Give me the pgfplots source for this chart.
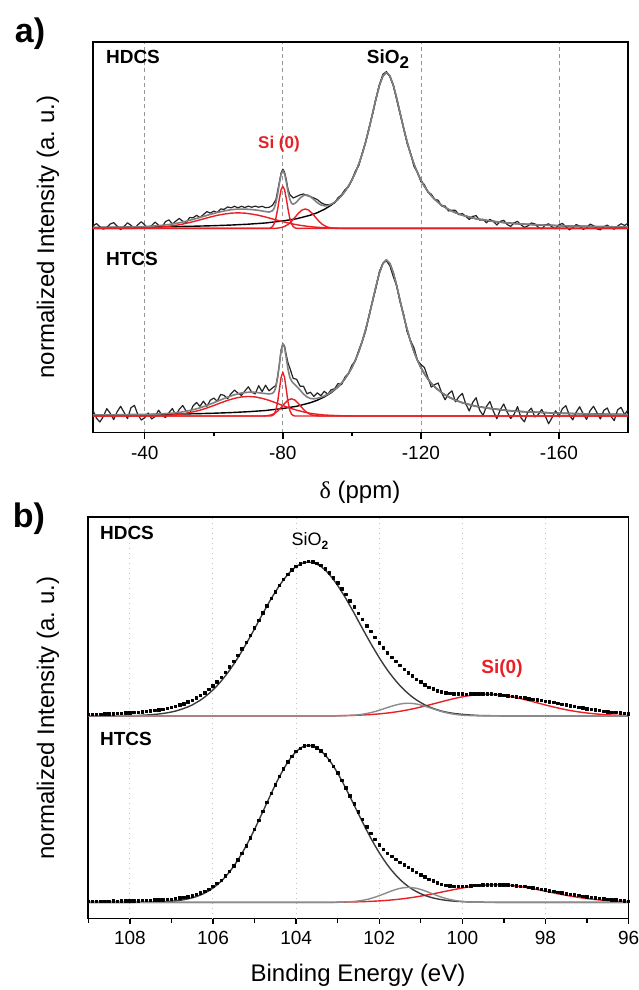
\documentclass[border=0pt]{standalone}
\usepackage{pgfplots}
\pgfplotsset{compat=1.18}
\usepackage{pgfplotstable}
\usepackage{fontspec}
\setmainfont{Liberation Sans}
\newfontfamily\greekserif{Liberation Serif}
\definecolor{fitred}{RGB}{232,32,38}
\definecolor{fitgray}{RGB}{128,128,128}
\definecolor{datablack}{RGB}{35,35,35}
\definecolor{compblack}{RGB}{60,60,60}
\definecolor{compgray}{RGB}{140,140,140}
\definecolor{gridgray}{RGB}{150,150,150}
\definecolor{gridlight}{RGB}{195,195,195}

% ---------- panel a : 29Si NMR ----------
\pgfplotstableread{
x y
-25 0.016
-26 0.031
-27 0.011
-28 -0.005
-29 0.007
-30 0.029
-31 0.037
-32 0.015
-33 -0.008
-34 0.013
-35 0.036
-36 0.020
-37 -0.001
-38 0.024
-39 0.043
-40 0.022
-41 0.001
-42 0.019
-43 0.041
-44 0.020
-45 0.010
-46 0.044
-47 0.055
-48 0.028
-49 0.047
-50 0.064
-51 0.046
-52 0.038
-53 0.070
-54 0.068
-55 0.084
-56 0.070
-57 0.089
-58 0.108
-59 0.098
-60 0.111
-61 0.102
-62 0.125
-63 0.122
-64 0.138
-65 0.132
-66 0.142
-67 0.132
-68 0.142
-69 0.134
-70 0.143
-71 0.136
-72 0.143
-73 0.136
-74 0.142
-75 0.133
-76 0.135
-77 0.148
-78 0.185
-78.5 0.240
-79 0.298
-79.5 0.356
-80 0.380
-80.5 0.360
-81 0.313
-81.5 0.250
-82 0.218
-83 0.195
-84 0.205
-85 0.215
-86 0.221
-87 0.210
-88 0.204
-89 0.195
-90 0.185
-91 0.166
-92 0.155
-93 0.151
-94 0.155
-95 0.163
-96 0.197
-97 0.215
-98 0.248
-99 0.266
-100 0.310
-101 0.367
-102 0.402
-103 0.483
-104 0.555
-105 0.647
-106 0.732
-107 0.833
-108 0.923
-109 0.988
-110 1.005
-111 0.973
-112 0.918
-113 0.823
-114 0.732
-115 0.642
-116 0.545
-117 0.483
-118 0.397
-119 0.362
-120 0.300
-121 0.281
-122 0.233
-123 0.220
-124 0.186
-125 0.181
-126 0.144
-127 0.144
-128 0.112
-129 0.116
-130 0.116
-131 0.088
-132 0.095
-133 0.078
-134 0.057
-135 0.077
-136 0.082
-137 0.053
-138 0.059
-139 0.036
-140 0.058
-141 0.045
-142 0.022
-143 0.045
-144 0.052
-145 0.025
-146 0.013
-147 0.036
-148 0.045
-149 0.023
-150 0.007
-151 0.016
-152 0.035
-153 0.029
-154 0.008
-155 -0.003
-156 0.021
-157 0.030
-158 0.009
-159 -0.002
-160 0.023
-161 0.032
-162 0.011
-163 -0.009
-164 0.005
-165 0.025
-166 0.014
-167 -0.006
-168 0.003
-169 0.028
-170 0.017
-171 -0.003
-172 -0.009
-173 0.011
-174 0.021
-175 0.005
-176 -0.005
-177 0.015
-178 0.030
-179 0.019
-180 0.034
}\aHDdata

\pgfplotstableread{
x y
-25 0.036
-26 -0.014
-27 -0.039
-28 -0.003
-29 0.047
-30 0.017
-31 -0.023
-32 0.027
-33 0.062
-34 0.023
-35 -0.017
-36 0.053
-37 0.068
-38 0.008
-39 -0.026
-40 -0.011
-41 0.019
-42 -0.019
-43 -0.003
-44 0.037
-45 0.004
-46 -0.010
-47 0.021
-48 0.048
-49 0.005
-50 0.043
-51 0.067
-52 0.030
-53 0.015
-54 0.065
-55 0.086
-56 0.062
-57 0.095
-58 0.062
-59 0.101
-60 0.115
-61 0.094
-62 0.138
-63 0.132
-64 0.111
-65 0.143
-66 0.166
-67 0.146
-68 0.132
-69 0.160
-70 0.187
-71 0.152
-72 0.142
-73 0.194
-74 0.156
-75 0.197
-76 0.161
-77 0.180
-78 0.196
-78.5 0.255
-79 0.332
-79.5 0.423
-80 0.462
-80.5 0.449
-81 0.391
-81.5 0.340
-82 0.309
-83 0.241
-84 0.235
-85 0.191
-86 0.190
-87 0.142
-88 0.152
-89 0.125
-90 0.148
-91 0.130
-92 0.158
-93 0.139
-94 0.168
-95 0.174
-96 0.208
-97 0.201
-98 0.249
-99 0.271
-100 0.325
-101 0.352
-102 0.422
-103 0.478
-104 0.545
-105 0.647
-106 0.737
-107 0.823
-108 0.928
-109 0.978
-110 0.995
-111 0.963
-112 0.893
-113 0.833
-114 0.727
-115 0.652
-116 0.540
-117 0.483
-118 0.437
-119 0.357
-120 0.330
-121 0.311
-122 0.248
-123 0.185
-124 0.201
-125 0.211
-126 0.149
-127 0.104
-128 0.142
-129 0.161
-130 0.091
-131 0.123
-132 0.145
-133 0.078
-134 0.032
-135 0.087
-136 0.117
-137 0.038
-138 0.004
-139 0.061
-140 0.093
-141 0.030
-142 -0.018
-143 0.040
-144 0.077
-145 0.025
-146 -0.017
-147 0.011
-148 0.060
-149 -0.012
-150 -0.038
-151 0.026
-152 0.050
-153 -0.006
-154 0.008
-155 0.042
-156 0.001
-157 -0.050
-158 -0.011
-159 0.033
-160 -0.002
-161 0.047
-162 0.066
-163 0.006
-164 -0.025
-165 0.025
-166 0.059
-167 0.014
-168 -0.022
-169 0.033
-170 0.062
-171 0.022
-172 -0.019
-173 0.036
-174 0.051
-175 0.000
-176 -0.030
-177 0.040
-178 0.055
-179 0.009
-180 0.039
}\aHTdata

% SiO2 component (same shape for both samples)
\pgfplotstableread{
x y
-25 0.006
-30 0.007
-35 0.008
-40 0.009
-45 0.0105
-50 0.0123
-55 0.0146
-60 0.0176
-65 0.0217
-70 0.0273
-75 0.035
-80 0.048
-84 0.062
-88 0.085
-90 0.101
-92 0.122
-94 0.149
-96 0.186
-97 0.210
-98 0.238
-99 0.271
-100 0.310
-101 0.357
-102 0.412
-103 0.478
-104 0.555
-105 0.642
-106 0.737
-107 0.833
-108 0.918
-109 0.978
-110 1.000
-111 0.978
-112 0.918
-113 0.833
-114 0.737
-115 0.642
-116 0.555
-117 0.478
-118 0.412
-119 0.357
-120 0.310
-121 0.271
-122 0.238
-123 0.210
-124 0.186
-126 0.149
-128 0.122
-130 0.101
-132 0.085
-136 0.062
-140 0.048
-145 0.035
-150 0.027
-160 0.0176
-170 0.0123
-180 0.0091
}\aSiO

\pgfplotstableread{
x y
-25 0.006
-30 0.007
-35 0.008
-40 0.012
-43 0.016
-45 0.020
-47 0.025
-49 0.032
-51 0.041
-53 0.052
-55 0.064
-57 0.077
-59 0.090
-61 0.102
-63 0.112
-65 0.120
-67 0.124
-69 0.124
-71 0.121
-73 0.116
-75 0.108
-76 0.105
-77 0.113
-77.5 0.130
-78 0.165
-78.5 0.221
-79 0.288
-79.5 0.346
-80 0.370
-80.5 0.350
-81 0.298
-81.5 0.236
-82 0.188
-82.5 0.162
-83 0.155
-83.5 0.161
-84 0.170
-85 0.195
-86 0.211
-87 0.215
-88 0.204
-89 0.185
-90 0.165
-91 0.151
-92 0.145
-93 0.146
-94 0.155
-95 0.168
-96 0.187
-97 0.210
-98 0.238
-99 0.271
-100 0.310
-101 0.357
-102 0.412
-103 0.478
-104 0.555
-105 0.642
-106 0.737
-107 0.833
-108 0.918
-109 0.978
-110 1.000
-111 0.978
-112 0.918
-113 0.833
-114 0.737
-115 0.642
-116 0.555
-117 0.478
-118 0.412
-119 0.357
-120 0.310
-121 0.271
-122 0.238
-123 0.210
-124 0.186
-126 0.149
-128 0.122
-130 0.101
-132 0.085
-136 0.062
-140 0.048
-145 0.035
-150 0.027
-160 0.0176
-170 0.0123
-180 0.0091
}\aHDfit

\pgfplotstableread{
x y
-25 0.006
-30 0.007
-35 0.008
-40 0.009
-42 0.011
-44 0.012
-46 0.015
-48 0.018
-50 0.023
-52 0.030
-54 0.040
-56 0.052
-58 0.067
-60 0.085
-62 0.103
-64 0.121
-66 0.136
-68 0.147
-70 0.152
-72 0.152
-74 0.146
-76 0.141
-77 0.145
-77.5 0.156
-78 0.186
-78.5 0.245
-79 0.332
-79.5 0.418
-80 0.462
-80.5 0.439
-81 0.371
-81.5 0.300
-82 0.249
-82.5 0.225
-83 0.211
-84 0.190
-85 0.166
-86 0.140
-87 0.122
-88 0.112
-89 0.110
-90 0.113
-91 0.120
-92 0.128
-93 0.139
-94 0.153
-95 0.169
-96 0.188
-97 0.211
-98 0.239
-99 0.271
-100 0.310
-101 0.357
-102 0.412
-103 0.478
-104 0.555
-105 0.642
-106 0.737
-107 0.833
-108 0.918
-109 0.978
-110 1.000
-111 0.978
-112 0.918
-113 0.833
-114 0.737
-115 0.642
-116 0.555
-117 0.478
-118 0.412
-119 0.357
-120 0.310
-121 0.271
-122 0.238
-123 0.210
-124 0.186
-126 0.149
-128 0.122
-130 0.101
-132 0.085
-136 0.062
-140 0.048
-145 0.035
-150 0.027
-160 0.0176
-170 0.0123
-180 0.0091
}\aHTfit

% ---------- panel b : XPS Si 2p ----------
\pgfplotstableread{
E dots blk gry red
109.0 0.010 0 0 0
108.9 0.010 0 0 0
108.8 0.011 0 0 0
108.7 0.010 0 0 0
108.6 0.012 0 0 0
108.5 0.014 0.0005 0 0
108.4 0.014 0.001 0 0
108.3 0.016 0.001 0 0
108.2 0.016 0.0015 0 0
108.1 0.018 0.002 0 0
108.0 0.020 0.002 0 0
107.9 0.021 0.0025 0 0
107.8 0.023 0.003 0 0
107.7 0.027 0.0045 0 0
107.6 0.028 0.006 0 0
107.5 0.033 0.0076 0 0
107.4 0.034 0.010 0 0
107.3 0.040 0.0126 0 0
107.2 0.042 0.016 0 0
107.1 0.048 0.020 0 0
107.0 0.055 0.025 0 0
106.9 0.061 0.031 0 0
106.8 0.070 0.039 0 0
106.7 0.078 0.048 0 0
106.6 0.089 0.058 0 0
106.5 0.100 0.070 0 0
106.4 0.115 0.085 0 0
106.3 0.130 0.101 0 0
106.2 0.148 0.120 0 0
106.1 0.169 0.142 0 0
106.0 0.192 0.166 0 0
105.9 0.218 0.193 0 0
105.8 0.247 0.223 0 0
105.7 0.278 0.256 0 0
105.6 0.311 0.291 0 0
105.5 0.348 0.330 0 0
105.4 0.386 0.371 0 0
105.3 0.427 0.415 0 0
105.2 0.470 0.460 0 0
105.1 0.514 0.507 0 0
105.0 0.560 0.555 0 0
104.9 0.607 0.604 0 0
104.8 0.655 0.653 0 0
104.7 0.702 0.700 0 0
104.6 0.748 0.747 0 0
104.5 0.790 0.790 0 0
104.4 0.831 0.831 0 0
104.3 0.868 0.868 0 0
104.2 0.901 0.901 0 0
104.1 0.929 0.929 0 0
104.0 0.951 0.951 0 0
103.9 0.967 0.967 0 0
103.8 0.979 0.977 0 0
103.7 0.983 0.980 0 0
103.6 0.981 0.977 0 0
103.5 0.972 0.967 0 0
103.4 0.958 0.951 0 0
103.3 0.938 0.929 0 0
103.2 0.912 0.901 0 0
103.1 0.878 0.868 0 0
103.0 0.846 0.831 0 0.0015
102.9 0.810 0.790 0.0012 0.0020
102.8 0.774 0.747 0.0020 0.0025
102.7 0.733 0.700 0.0032 0.0032
102.6 0.694 0.653 0.0050 0.0039
102.5 0.654 0.604 0.0075 0.0049
102.4 0.614 0.555 0.0110 0.0061
102.3 0.575 0.507 0.0155 0.0074
102.2 0.537 0.460 0.0212 0.0091
102.1 0.501 0.415 0.0281 0.0110
102.0 0.465 0.371 0.0360 0.0132
101.9 0.433 0.330 0.0447 0.0158
101.8 0.401 0.291 0.0536 0.0187
101.7 0.373 0.256 0.0622 0.0220
101.6 0.347 0.223 0.0698 0.0257
101.5 0.322 0.193 0.0758 0.0298
101.4 0.298 0.166 0.0797 0.0344
101.3 0.275 0.142 0.0810 0.0394
101.2 0.254 0.120 0.0797 0.0448
101.1 0.233 0.101 0.0758 0.0506
101.0 0.216 0.085 0.0698 0.0567
100.9 0.198 0.070 0.0622 0.0632
100.8 0.183 0.058 0.0536 0.0699
100.7 0.171 0.048 0.0447 0.0767
100.6 0.161 0.039 0.0360 0.0837
100.5 0.152 0.031 0.0281 0.0907
100.4 0.146 0.025 0.0212 0.0975
100.3 0.142 0.020 0.0155 0.1042
100.2 0.140 0.016 0.0110 0.1105
100.1 0.139 0.013 0.0075 0.1164
100.0 0.139 0.010 0.0050 0.1218
99.9 0.138 0.008 0.0032 0.1265
99.8 0.139 0.006 0.0020 0.1305
99.7 0.140 0.0045 0.0012 0.1338
99.6 0.139 0.003 0.0007 0.1361
99.5 0.140 0.0025 0.0004 0.1375
99.4 0.140 0.002 0.0002 0.1380
99.3 0.139 0.0015 0 0.1375
99.2 0.137 0.001 0 0.1361
99.1 0.135 0.001 0 0.1338
99.0 0.132 0.0005 0 0.1305
98.9 0.129 0 0 0.1265
98.8 0.125 0 0 0.1218
98.7 0.122 0 0 0.1164
98.6 0.118 0 0 0.1105
98.5 0.114 0 0 0.1042
98.4 0.110 0 0 0.0975
98.3 0.106 0 0 0.0907
98.2 0.102 0 0 0.0837
98.1 0.098 0 0 0.0767
98.0 0.094 0 0 0.0699
97.9 0.090 0 0 0.0632
97.8 0.085 0 0 0.0567
97.7 0.080 0 0 0.0506
97.6 0.075 0 0 0.0448
97.5 0.070 0 0 0.0394
97.4 0.065 0 0 0.0344
97.3 0.060 0 0 0.0298
97.2 0.055 0 0 0.0257
97.1 0.050 0 0 0.0220
97.0 0.046 0 0 0.0187
96.9 0.042 0 0 0.0158
96.8 0.038 0 0 0.0132
96.7 0.034 0 0 0.0110
96.6 0.030 0 0 0.0091
96.5 0.027 0 0 0.0074
96.4 0.024 0 0 0.0061
96.3 0.021 0 0 0.0049
96.2 0.018 0 0 0.0039
96.1 0.016 0 0 0.0032
96.0 0.014 0 0 0.0025
}\bHD

\pgfplotstableread{
E dots blk gry red
109.0 0.006 0 0 0
108.9 0.005 0 0 0
108.8 0.007 0 0 0
108.7 0.006 0 0 0
108.6 0.007 0 0 0
108.5 0.006 0 0 0
108.4 0.008 0 0 0
108.3 0.007 0 0 0
108.2 0.008 0 0 0
108.1 0.008 0 0 0
108.0 0.009 0 0 0
107.9 0.009 0.0002 0 0
107.8 0.010 0.0004 0 0
107.7 0.011 0.0007 0 0
107.6 0.012 0.0010 0 0
107.5 0.012 0.0012 0 0
107.4 0.014 0.0020 0 0
107.3 0.015 0.0028 0 0
107.2 0.017 0.0039 0 0
107.1 0.018 0.0053 0 0
107.0 0.020 0.0072 0 0
106.9 0.024 0.0096 0 0
106.8 0.027 0.0128 0 0
106.7 0.031 0.0169 0 0
106.6 0.036 0.0222 0 0
106.5 0.042 0.0285 0 0
106.4 0.050 0.0367 0 0
106.3 0.059 0.0466 0 0
106.2 0.070 0.0588 0 0
106.1 0.084 0.0735 0 0
106.0 0.100 0.0909 0 0
105.9 0.119 0.1112 0 0
105.8 0.141 0.1353 0 0
105.7 0.168 0.1630 0 0
105.6 0.198 0.1945 0 0
105.5 0.232 0.2300 0 0
105.4 0.270 0.2696 0 0
105.3 0.313 0.3131 0 0
105.2 0.360 0.3604 0 0
105.1 0.411 0.4111 0 0
105.0 0.465 0.4650 0 0
104.9 0.521 0.5205 0 0
104.8 0.578 0.5775 0 0
104.7 0.635 0.6354 0 0
104.6 0.693 0.6925 0 0
104.5 0.748 0.7480 0 0
104.4 0.801 0.8007 0 0
104.3 0.850 0.8495 0 0
104.2 0.893 0.8929 0 0
104.1 0.930 0.9300 0 0
104.0 0.960 0.9600 0 0
103.9 0.982 0.9820 0 0
103.8 0.996 0.9955 0 0
103.7 1.000 1.0000 0 0
103.6 0.996 0.9960 0 0
103.5 0.984 0.9842 0 0
103.4 0.965 0.9647 0 0
103.3 0.938 0.9382 0 0
103.2 0.905 0.9052 0 0
103.1 0.866 0.8663 0 0
103.0 0.824 0.8226 0 0.0011
102.9 0.778 0.7749 0.0014 0.0013
102.8 0.728 0.7240 0.0023 0.0018
102.7 0.677 0.6710 0.0037 0.0023
102.6 0.626 0.6172 0.0058 0.0028
102.5 0.575 0.5631 0.0088 0.0035
102.4 0.527 0.5099 0.0129 0.0042
102.3 0.481 0.4578 0.0182 0.0052
102.2 0.439 0.4078 0.0249 0.0063
102.1 0.401 0.3604 0.0330 0.0076
102.0 0.367 0.3161 0.0422 0.0091
101.9 0.338 0.2749 0.0524 0.0109
101.8 0.313 0.2373 0.0628 0.0129
101.7 0.292 0.2034 0.0730 0.0152
101.6 0.272 0.1726 0.0819 0.0177
101.5 0.255 0.1453 0.0889 0.0206
101.4 0.239 0.1214 0.0934 0.0238
101.3 0.223 0.1008 0.0950 0.0273
101.2 0.207 0.0828 0.0934 0.0311
101.1 0.192 0.0676 0.0889 0.0353
101.0 0.176 0.0548 0.0819 0.0397
100.9 0.161 0.0439 0.0730 0.0445
100.8 0.147 0.0350 0.0628 0.0494
100.7 0.135 0.0277 0.0524 0.0545
100.6 0.124 0.0217 0.0422 0.0598
100.5 0.115 0.0169 0.0330 0.0652
100.4 0.109 0.0130 0.0249 0.0706
100.3 0.104 0.0100 0.0182 0.0760
100.2 0.102 0.0076 0.0129 0.0813
100.1 0.101 0.0057 0.0088 0.0865
100.0 0.102 0.0045 0.0058 0.0913
99.9 0.103 0.0032 0.0037 0.0957
99.8 0.105 0.0025 0.0023 0.0998
99.7 0.107 0.0017 0.0014 0.1034
99.6 0.108 0.0012 0.0008 0.1064
99.5 0.110 0.0009 0.0003 0.1088
99.4 0.111 0.0006 0 0.1106
99.3 0.112 0.0004 0 0.1116
99.2 0.112 0.0002 0 0.1120
99.1 0.112 0.0001 0 0.1116
99.0 0.111 0 0 0.1106
98.9 0.110 0 0 0.1088
98.8 0.108 0 0 0.1064
98.7 0.106 0 0 0.1034
98.6 0.103 0 0 0.0998
98.5 0.100 0 0 0.0957
98.4 0.096 0 0 0.0913
98.3 0.093 0 0 0.0865
98.2 0.088 0 0 0.0813
98.1 0.083 0 0 0.0760
98.0 0.079 0 0 0.0706
97.9 0.073 0 0 0.0652
97.8 0.069 0 0 0.0598
97.7 0.064 0 0 0.0545
97.6 0.059 0 0 0.0494
97.5 0.055 0 0 0.0445
97.4 0.051 0 0 0.0397
97.3 0.046 0 0 0.0353
97.2 0.043 0 0 0.0311
97.1 0.039 0 0 0.0273
97.0 0.036 0 0 0.0238
96.9 0.032 0 0 0.0206
96.8 0.029 0 0 0.0177
96.7 0.025 0 0 0.0152
96.6 0.022 0 0 0.0129
96.5 0.019 0 0 0.0109
96.4 0.016 0 0 0.0091
96.3 0.014 0 0 0.0076
96.2 0.011 0 0 0.0063
96.1 0.009 0 0 0.0052
96.0 0.007 0 0 0.0042
}\bHT

\pgfplotsset{
  panelA/.style={
    at={(46.5pt,-21pt)}, anchor=north west,
    scale only axis, width=267.5pt, height=195.25pt,
    xmin=-180, xmax=-25, x dir=reverse,
  },
  panelB/.style={
    at={(44.15pt,-258.5pt)}, anchor=north west,
    scale only axis, width=270.15pt, height=200.75pt,
    xmin=96, xmax=109, x dir=reverse,
  },
}

\begin{document}
\begin{tikzpicture}[x=1pt,y=1pt]
\path[use as bounding box] (0,0) rectangle (319,-495);

% ===== panel a, frame + HTCS =====
\begin{axis}[panelA,
  ymin=-0.106, ymax=2.397, ytick=\empty,
  xtick={-40,-80,-120,-160}, xticklabels={-40,-80,-120,-160},
  minor xtick={-60,-100,-140},
  xtick pos=bottom, tick align=outside,
  major tick length=3.4pt, minor tick length=1.8pt,
  tick style={black, line width=0.7pt},
  axis line style={line width=0.9pt},
  xmajorgrids, major grid style={gridgray, line width=0.4pt, dash pattern=on 2pt off 1.6pt},
  xticklabel style={font=\fontsize{9.5}{10}\selectfont},
  every axis plot/.append style={line join=round},
]
\addplot[datablack, line width=0.6pt] table {\aHTdata};
\addplot[black, line width=0.7pt] table {\aSiO};
\addplot[fitgray, line width=0.8pt] table {\aHTfit};
\addplot[fitred, line width=0.7pt] coordinates {(-25,0) (-40,0) (-42,0.001) (-44,0.002) (-46,0.004) (-48,0.006) (-50,0.011) (-52,0.017) (-54,0.026) (-56,0.037) (-58,0.051) (-60,0.067) (-62,0.084) (-64,0.100) (-66,0.113) (-68,0.122) (-70,0.125) (-72,0.122) (-74,0.113) (-76,0.100) (-78,0.084) (-80,0.067) (-82,0.051) (-84,0.037) (-86,0.026) (-88,0.017) (-90,0.011) (-92,0.006) (-94,0.004) (-96,0.002) (-98,0.001) (-100,0) (-180,0)};
\addplot[fitred, line width=0.7pt] coordinates {(-25,0) (-76.5,0) (-77,0.003) (-77.5,0.012) (-78,0.038) (-78.5,0.091) (-79,0.170) (-79.5,0.247) (-80,0.280) (-80.5,0.247) (-81,0.170) (-81.5,0.091) (-82,0.038) (-82.5,0.012) (-83,0.003) (-83.5,0) (-180,0)};
\addplot[fitred, line width=0.7pt] coordinates {(-25,0) (-74.5,0) (-75.5,0.002) (-76.5,0.006) (-77.5,0.015) (-78.5,0.031) (-79.5,0.054) (-80.5,0.080) (-81.5,0.102) (-82.5,0.110) (-83.5,0.102) (-84.5,0.080) (-85.5,0.054) (-86.5,0.031) (-87.5,0.015) (-88.5,0.006) (-89.5,0.002) (-90.5,0) (-180,0)};
\end{axis}

% ===== panel a, HDCS (stacked) =====
\begin{axis}[panelA, hide axis, ymin=-1.308, ymax=1.195,
  every axis plot/.append style={line join=round}]
\addplot[datablack, line width=0.6pt] table {\aHDdata};
\addplot[black, line width=0.7pt] table {\aSiO};
\addplot[fitgray, line width=0.8pt] table {\aHDfit};
\addplot[fitred, line width=0.7pt] coordinates {(-25,0) (-35,0) (-37,0.001) (-39,0.002) (-41,0.003) (-43,0.006) (-45,0.009) (-47,0.014) (-49,0.020) (-51,0.028) (-53,0.038) (-55,0.049) (-57,0.061) (-59,0.073) (-61,0.084) (-63,0.092) (-65,0.098) (-67,0.100) (-69,0.098) (-71,0.092) (-73,0.084) (-75,0.073) (-77,0.061) (-79,0.049) (-81,0.038) (-83,0.028) (-85,0.020) (-87,0.014) (-89,0.009) (-91,0.006) (-93,0.003) (-95,0.002) (-97,0.001) (-99,0) (-180,0)};
\addplot[fitred, line width=0.7pt] coordinates {(-25,0) (-76,0) (-76.5,0.004) (-77,0.012) (-77.5,0.031) (-78,0.067) (-78.5,0.124) (-79,0.191) (-79.5,0.248) (-80,0.270) (-80.5,0.248) (-81,0.191) (-81.5,0.124) (-82,0.067) (-82.5,0.031) (-83,0.012) (-83.5,0.004) (-84,0) (-180,0)};
\addplot[fitred, line width=0.7pt] coordinates {(-25,0) (-77.5,0) (-78.5,0.002) (-79.5,0.0055) (-80.5,0.013) (-81.5,0.025) (-82.5,0.045) (-83.5,0.071) (-84.5,0.097) (-85.5,0.117) (-86.5,0.125) (-87.5,0.117) (-88.5,0.097) (-89.5,0.071) (-90.5,0.045) (-91.5,0.025) (-92.5,0.013) (-93.5,0.0055) (-94.5,0.002) (-95.5,0) (-180,0)};
\end{axis}

% ===== panel b, frame + HTCS =====
\begin{axis}[panelB,
  ymin=-0.103, ymax=2.454, ytick=\empty,
  xtick={108,106,104,102,100,98,96}, xticklabels={108,106,104,102,100,98,96},
  minor xtick={109,107,105,103,101,99,97},
  xtick pos=bottom, tick align=outside,
  major tick length=2.8pt, minor tick length=2.2pt,
  tick style={black, line width=0.7pt},
  axis line style={line width=0.9pt},
  grid=none,
  xticklabel style={font=\fontsize{9.5}{10}\selectfont},
  every axis plot/.append style={line join=round},
]
\pgfplotsinvokeforeach{108,106,104,102,100,98}{
  \addplot[gridlight, line width=0.5pt, dotted, forget plot] coordinates {(#1,-0.103) (#1,2.454)};
}
\addplot[fitred, line width=0.7pt] table[x=E, y=red] {\bHT};
\addplot[compblack, line width=0.7pt] table[x=E, y=blk] {\bHT};
\addplot[compgray, line width=0.7pt] table[x=E, y=gry] {\bHT};
\addplot[black, only marks, mark=square*, mark size=0.62pt] table[x=E, y=dots] {\bHT};
\end{axis}

% ===== panel b, HDCS (stacked) =====
\begin{axis}[panelB, hide axis, ymin=-1.290, ymax=1.267,
  every axis plot/.append style={line join=round}]
\addplot[fitred, line width=0.7pt] table[x=E, y=red] {\bHD};
\addplot[compblack, line width=0.7pt] table[x=E, y=blk] {\bHD};
\addplot[compgray, line width=0.7pt] table[x=E, y=gry] {\bHD};
\addplot[black, only marks, mark=square*, mark size=0.62pt] table[x=E, y=dots] {\bHD};
\end{axis}

% ===== labels =====
\node[font=\fontsize{17}{17}\selectfont\bfseries] at (15,-17) {a)};
\node[font=\fontsize{17}{17}\selectfont\bfseries] at (14.5,-259.5) {b)};

\node[rotate=90, font=\fontsize{12}{12}\selectfont] at (24,-118.5) {normalized Intensity (a.\ u.)};
\node[rotate=90, font=\fontsize{12}{12}\selectfont] at (24,-359) {normalized Intensity (a.\ u.)};

\node[font=\fontsize{12}{12}\selectfont] at (180,-246) {{\greekserif δ} (ppm)};
\node[font=\fontsize{12}{12}\selectfont] at (179,-487.5) {Binding Energy (eV)};

\node[anchor=west, font=\fontsize{9.5}{10}\selectfont\bfseries] at (49.5,-28.5) {HDCS};
\node[anchor=west, font=\fontsize{9.5}{10}\selectfont\bfseries] at (49.5,-129.5) {HTCS};
\node[font=\fontsize{9.5}{10}\selectfont\bfseries] at (194,-29.5) {SiO\raisebox{-0.45ex}{\fontsize{8.5}{9}\selectfont 2}};
\node[font=\fontsize{8.5}{9}\selectfont\bfseries, text=fitred] at (139.5,-72) {Si (0)};

\node[anchor=west, font=\fontsize{9.5}{10}\selectfont\bfseries] at (46.5,-266.5) {HDCS};
\node[anchor=west, font=\fontsize{9.5}{10}\selectfont\bfseries] at (46.5,-369.5) {HTCS};
\node[font=\fontsize{9}{10}\selectfont] at (155,-270.5) {SiO\raisebox{-0.5ex}{\fontsize{6}{7}\selectfont\bfseries 2}};
\node[font=\fontsize{9.5}{10}\selectfont\bfseries, text=fitred] at (251,-334.5) {Si(0)};
\end{tikzpicture}
\end{document}
